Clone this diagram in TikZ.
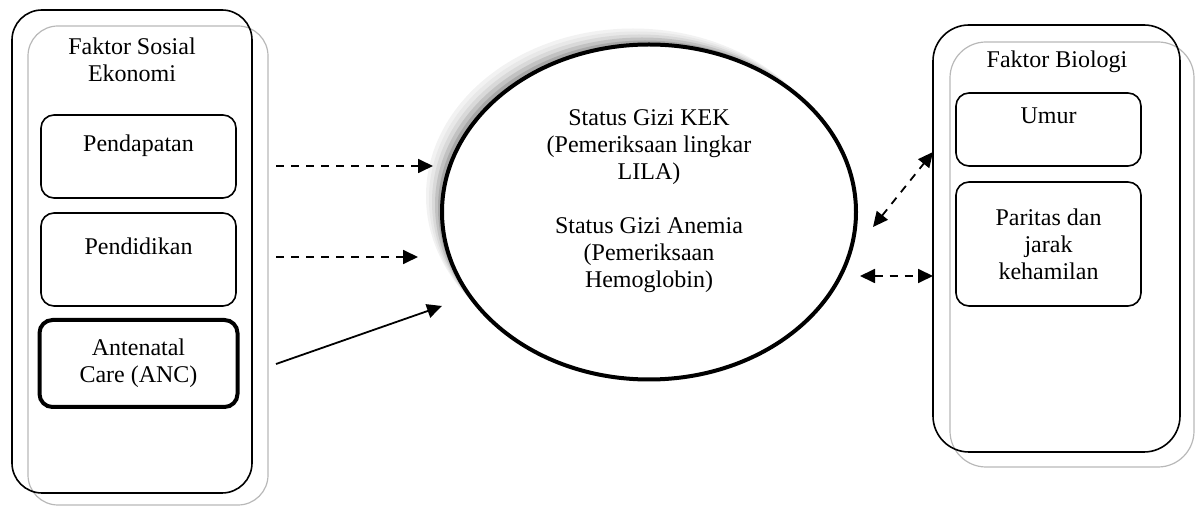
\documentclass[tikz,border=0pt]{standalone}
\usepackage{fontspec}
\setmainfont{Liberation Serif}
\usetikzlibrary{shapes.geometric, arrows.meta, positioning}

\begin{document}
\begin{tikzpicture}[
    x=0.5pt, y=-0.5pt,
    every node/.style={font=\fontsize{12pt}{13.5pt}\selectfont, align=center, outer sep=0pt},
    group/.style={draw=black, rounded corners=15pt, line width=0.8pt, inner sep=0pt},
    groupshade/.style={draw=black!28, rounded corners=15pt, line width=0.6pt, inner sep=0pt},
    factor/.style={draw=black, rounded corners=6.5pt, line width=0.8pt, inner sep=0pt,
                   minimum width=97.5pt},
    status/.style={ellipse, draw=black, fill=white, line width=2pt, inner sep=0pt,
                   minimum width=207pt, minimum height=167.5pt},
    arrow/.style={-{Triangle[length=7.5pt, width=7pt]}, line width=0.9pt},
    dasharrow/.style={arrow, dash pattern=on 4pt off 3.5pt},
    biarrow/.style={dasharrow, {Triangle[length=7.5pt, width=7pt]}-{Triangle[length=7.5pt, width=7pt]}},
]
    \useasboundingbox (0,0) rectangle (1195,507);

    % Faktor sosial ekonomi
    \node[groupshade, minimum width=120pt, minimum height=239.5pt] (sosialbg) at (148,265.5) {};
    \node[group, minimum width=120pt, minimum height=241.5pt] (sosial) at (132,251.5) {};
    \node (sosialtitle) at (132,60) {Faktor Sosial\\Ekonomi};
    \node[factor, minimum height=41.5pt] (pendapatan) at (138.5,156.5) {Pendapatan\\~};
    \node[factor, minimum height=46.5pt, below=7.5pt of pendapatan] (pendidikan) {Pendidikan\\~};
    \node[factor, line width=2pt, minimum width=99pt, minimum height=43.5pt,
          below=7pt of pendidikan] (anc) {Antenatal\\Care (ANC)};

    % Faktor biologi
    \node[groupshade, rounded corners=18pt, minimum width=122pt, minimum height=212.5pt] (biologibg) at (1072,254.5) {};
    \node[group, rounded corners=18pt, minimum width=123.5pt, minimum height=213.5pt] (biologi) at (1056.5,238.5) {};
    \node (biologititle) at (1057,62) {Faktor Biologi};
    \node[factor, minimum width=92.5pt, minimum height=36.5pt] (umur) at (1048.5,129.5) {Umur\\~};
    \node[factor, minimum width=92.5pt, minimum height=62pt, below=8pt of umur] (paritas) {Paritas dan\\jarak\\kehamilan};

    % Status gizi (with soft shadow)
    \foreach \d/\c in {16/5, 13/9, 10/15, 7/24, 4/34}
        \node[status, fill=black!\c, draw=none] (shade\d) at ({649-\d},{212-\d}) {};
    \node[status] (gizi) at (649,212) {Status Gizi KEK\\(Pemeriksaan lingkar\\LILA)\\~\\Status Gizi Anemia\\(Pemeriksaan\\Hemoglobin)\\~};

    % Arrows
    \coordinate (fromPendapatan) at (276,166);
    \coordinate (fromPendidikan) at (276,257);
    \coordinate (fromAnc) at (276,364);
    \draw[dasharrow, shorten >=4.5pt] (fromPendapatan) -- (fromPendapatan -| gizi.west);
    \draw[dasharrow, shorten >=12pt] (fromPendidikan) -- (fromPendidikan -| gizi.west);
    \draw[arrow] (fromAnc) -- ([yshift=-47pt]gizi.west);
    \draw[biarrow] ([shift={(8.5pt,-7.5pt)}]gizi.east) -- ([yshift=43.25pt]biologi.west);
    \draw[biarrow, shorten <=2pt] ([yshift=-32pt]gizi.east) -- ([yshift=-32pt]gizi.east -| biologi.west);
\end{tikzpicture}
\end{document}
